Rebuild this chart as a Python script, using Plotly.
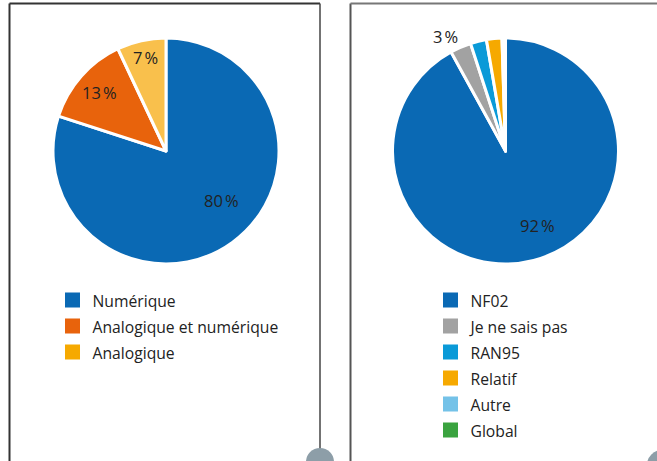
import math
import plotly.graph_objects as go

W, H = 657, 461

# Left chart data
left_labels = ["Numérique", "Analogique et numérique", "Analogique"]
left_values = [80, 13, 7]
left_colors = ["#0a69b4", "#e8630c", "#f9c04c"]
left_legend_colors = ["#0a69b4", "#e8630c", "#f6a900"]

# Right chart data
right_labels = ["NF02", "Je ne sais pas", "RAN95", "Relatif", "Autre", "Global"]
right_values = [92, 3, 2.3, 2.2, 0.3, 0.2]
right_colors = ["#0a69b4", "#a2a2a2", "#0a9ad8", "#f6a900", "#74c2e8", "#3aa33f"]
right_label_shown = [True, True, False, False, False, False]

FONT = "Open Sans, Noto Sans, sans-serif"
TXT = "#222222"
NNBSP = "\u202f"


def px(x):
    return x / W


def py(y):
    return 1 - y / H


R = 113
LC = (166, 151)
RC = (505.5, 151)

fig = go.Figure()

fig.add_trace(go.Pie(
    labels=left_labels, values=left_values, sort=False, direction="clockwise",
    rotation=0,
    marker=dict(colors=left_colors, line=dict(color="white", width=3)),
    textinfo="none",
    domain=dict(x=[px(LC[0] - R), px(LC[0] + R)], y=[py(LC[1] + R), py(LC[1] - R)]),
    showlegend=False, hoverinfo="label+percent",
))

fig.add_trace(go.Pie(
    labels=right_labels, values=right_values, sort=False, direction="clockwise",
    rotation=0,
    marker=dict(colors=right_colors, line=dict(color="white", width=3)),
    textinfo="none",
    domain=dict(x=[px(RC[0] - R), px(RC[0] + R)], y=[py(RC[1] + R), py(RC[1] - R)]),
    showlegend=False, hoverinfo="label+percent",
))


def slice_labels(values, shown, center, rfracs, afracs):
    total = sum(values)
    acc = 0.0
    out = []
    for v, s, rf, af in zip(values, shown, rfracs, afracs):
        ang = (acc + v * af) / total * 2 * math.pi
        acc += v
        if not s:
            continue
        xpix = center[0] + rf * R * math.sin(ang)
        ypix = center[1] - rf * R * math.cos(ang)
        out.append(dict(x=px(xpix), y=py(ypix), xref="paper", yref="paper",
                        xanchor="center", yanchor="middle",
                        text=f"{round(v / total * 100)}{NNBSP}%", showarrow=False,
                        font=dict(family=FONT, size=16.5, color=TXT)))
    return out


annotations = []
annotations += slice_labels(left_values, [True, True, True], LC,
                            [0.66, 0.78, 0.85], [0.458, 0.5, 0.5])
annotations += slice_labels(right_values, right_label_shown, RC,
                            [0.72, 1.14, 0, 0, 0, 0], [0.474, 0.1, 0.5, 0.5, 0.5, 0.5])

# Legend entries
for lab, col in zip(left_labels, left_legend_colors):
    fig.add_trace(go.Scatter(x=[None], y=[None], mode="markers",
                             name=f"<span style='font-size:15.7px'>{lab}</span>",
                             marker=dict(symbol="square", size=15, color=col),
                             legend="legend", hoverinfo="skip"))
for lab, col in zip(right_labels, right_colors):
    fig.add_trace(go.Scatter(x=[None], y=[None], mode="markers",
                             name=f"<span style='font-size:15.7px'>{lab}</span>",
                             marker=dict(symbol="square", size=15, color=col),
                             legend="legend2", hoverinfo="skip"))

legend_style = dict(font=dict(family=FONT, size=17.7, color=TXT), bgcolor="rgba(0,0,0,0)",
                    xanchor="left", yanchor="top", tracegroupgap=0, itemclick=False)

P = dict(xref="paper", yref="paper")
shapes = [
    # panel frames
    dict(type="line", x0=px(9.5), x1=px(9.5), y0=py(3.5), y1=py(475), line=dict(color="#333", width=2), **P),
    dict(type="line", x0=px(9.5), x1=px(320), y0=py(3.5), y1=py(3.5), line=dict(color="#333", width=2), **P),
    dict(type="line", x0=px(320), x1=px(320), y0=py(3.5), y1=py(475), line=dict(color="#444", width=1.5), **P),
    dict(type="line", x0=px(350.5), x1=px(350.5), y0=py(3.5), y1=py(475), line=dict(color="#555", width=2), **P),
    dict(type="line", x0=px(350.5), x1=px(680), y0=py(3.5), y1=py(3.5), line=dict(color="#777", width=2), **P),
    # page badges
    dict(type="circle", x0=px(306), x1=px(334), y0=py(448), y1=py(476), fillcolor="#8d9ea8", line=dict(width=0), **P),
    dict(type="circle", x0=px(647), x1=px(677), y0=py(450), y1=py(480), fillcolor="#8d9ea8", line=dict(width=0), **P),
]

fig.update_layout(
    width=W, height=H, margin=dict(l=0, r=0, t=0, b=0),
    paper_bgcolor="white", plot_bgcolor="white",
    xaxis=dict(visible=False, range=[0, 1]), yaxis=dict(visible=False, range=[0, 1]),
    legend=dict(x=px(52.5), y=py(282), **legend_style),
    legend2=dict(x=px(430.5), y=py(282), **legend_style),
    shapes=shapes, annotations=annotations,
    showlegend=True,
)

fig.write_html("out.html", config={"displayModeBar": False},
               post_script="document.body.style.margin='0';document.body.style.overflow='hidden';")
